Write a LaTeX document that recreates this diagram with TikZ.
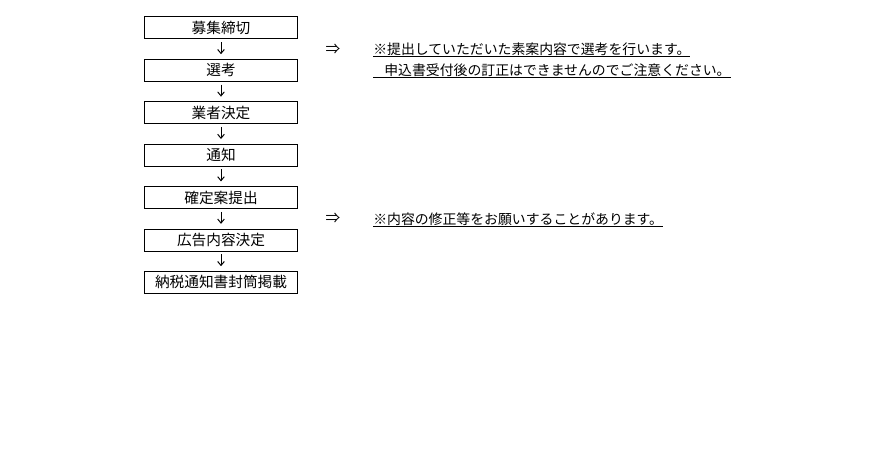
\documentclass[tikz,border=0pt]{standalone}
\usepackage{fontspec}
\setmainfont{Noto Sans CJK JP}
\usetikzlibrary{arrows.meta}
\newcommand{\ulnote}[1]{\underline{\smash{#1}}}
\tikzset{
  flowbox/.style={draw, line width=0.75pt, minimum width=114.75pt, minimum height=16.5pt,
    inner sep=0pt, font=\fontsize{11pt}{13pt}\selectfont},
  note/.style={anchor=base west, inner sep=0pt, font=\fontsize{10.4pt}{12pt}\selectfont},
  flowarrow/.style={line width=0.75pt, -{Straight Barb[length=3pt,width=5pt]},
    shorten <=2pt, shorten >=3.5pt}
}

\begin{document}
\begin{tikzpicture}[x=0.75pt,y=-0.75pt]
  \useasboundingbox (0,0) rectangle (875,460);

  \node[flowbox] (boshu) at (221,28) {募集締切};
  \node[flowbox] (senko) at (221,70.4) {選考};
  \node[flowbox] (gyosha) at (221,112.8) {業者決定};
  \node[flowbox] (tsuchi) at (221,155.2) {通知};
  \node[flowbox] (teishutsu) at (221,197.6) {確定案提出};
  \node[flowbox] (kokoku) at (221,240) {広告内容決定};
  \node[flowbox] (keisai) at (221,282.4) {納税通知書封筒掲載};

  \node[draw=none, inner sep=0pt, font=\fontsize{11pt}{13pt}\selectfont] (imp1) at (333,49.2) {⇒};
  \node[note] (note1) at (373,54.7) {\ulnote{※提出していただいた素案内容で選考を行います。}};
  \node[note] (note2) at (373,75.9) {\ulnote{\hspace*{0.8em}申込書受付後の訂正はできませんのでご注意ください。}};

  \node[draw=none, inner sep=0pt, font=\fontsize{11pt}{13pt}\selectfont] (imp2) at (333,218.8) {⇒};
  \node[note] (note3) at (373,224.3) {\ulnote{※内容の修正等をお願いすることがあります。}};

  \draw[flowarrow] (boshu) -- (senko);
  \draw[flowarrow] (senko) -- (gyosha);
  \draw[flowarrow] (gyosha) -- (tsuchi);
  \draw[flowarrow] (tsuchi) -- (teishutsu);
  \draw[flowarrow] (teishutsu) -- (kokoku);
  \draw[flowarrow] (kokoku) -- (keisai);
\end{tikzpicture}
\end{document}
